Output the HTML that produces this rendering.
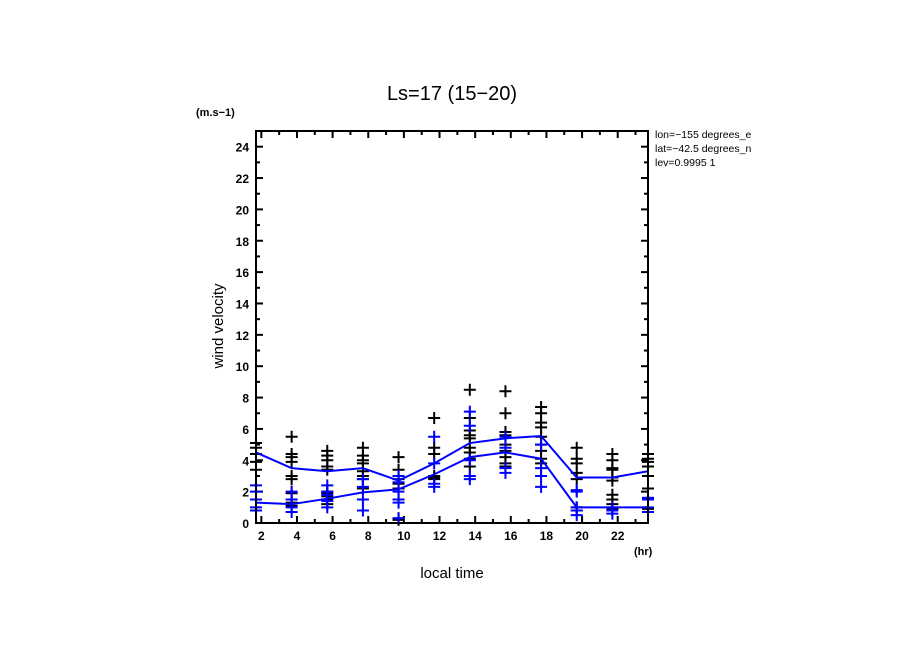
<!DOCTYPE html>
<html><head><meta charset="utf-8"><style>
body{margin:0;background:#fff}
svg text{font-family:"Liberation Sans",sans-serif}
</style></head><body>
<svg id="chart" width="904" height="654" viewBox="0 0 904 654">
<rect width="904" height="654" fill="#fff"/>
<text x="452" y="100" font-size="20" text-anchor="middle">Ls=17 (15−20)</text>
<text x="196" y="116" font-size="11" font-weight="bold">(m.s−1)</text>
<text x="655" y="138" font-size="10.5">lon=−155 degrees_e</text>
<text x="655" y="152" font-size="10.5">lat=−42.5 degrees_n</text>
<text x="655" y="166" font-size="10.5">lev=0.9995 1</text>
<text x="223" y="326" font-size="15" text-anchor="middle" transform="rotate(-90 223 326)">wind velocity</text>
<text x="452" y="578" font-size="15" text-anchor="middle">local time</text>
<text x="634" y="555" font-size="11" font-weight="bold">(hr)</text>
<g id="axes"></g>
<g id="series"></g>
<rect x="256" y="131" width="392" height="392" fill="none" stroke="#000" stroke-width="2"/>
</svg>
<script>
const hours=[1.7,3.7,5.7,7.7,9.7,11.7,13.7,15.7,17.7,19.7,21.7,23.7];
const upperLine=[4.5,3.5,3.3,3.5,2.7,3.8,5.1,5.4,5.55,2.9,2.9,3.3];
const lowerLine=[1.3,1.2,1.55,1.95,2.15,3.1,4.2,4.5,4.1,1.0,1.0,1.0];
const blackPts=[[5.1,4.8,4.4,3.9,3.4],[5.5,4.4,4.2,3.9,3.0,2.8,1.9,1.3,1.1],[4.6,4.3,4.0,3.6,3.4,2.0,1.9,1.7,1.5,1.2],[4.8,4.3,4.0,3.8,3.3,3.0,2.8,2.2],[4.2,3.4,3.0,2.8,2.5,2.2,1.5,0.3,0.2],[6.7,4.8,4.4,3.0,2.9,2.8],[8.5,6.7,5.9,5.6,5.4,4.8,4.5,4.1,3.6],[8.4,7.0,5.8,5.6,5.0,4.6,4.2,3.8,3.6],[7.4,7.0,6.4,6.1,5.5,5.0,4.6,4.1,3.8],[4.8,4.1,3.8,3.2,2.8,1.0,0.8],[4.4,4.0,3.5,3.4,2.9,2.7,1.8,1.5,1.2,0.9],[4.4,4.1,3.9,3.6,3.0,2.2,1.6,0.9]];
const bluePts=[[2.4,2.0,1.5,1.0,0.8],[2.0,1.5,1.0,0.7],[2.4,2.0,1.8,1.4,1.0],[2.8,2.3,1.5,0.8],[3.0,2.6,2.0,1.5,1.3,0.3],[5.5,3.8,2.5,2.3],[7.1,6.2,4.0,3.0,2.8],[5.5,4.8,3.5,3.2],[5.0,3.5,3.0,2.3],[2.1,2.0,1.0,0.8,0.5],[1.0,0.8,0.6],[1.6,1.5,1.0,0.7]];
const xTicks=[2,4,6,8,10,12,14,16,18,20,22];
const yTicks=[0,2,4,6,8,10,12,14,16,18,20,22,24];
const X0=256,X1=648,Y0=523,Y1=131,xmin=1.7,xmax=23.7,ymin=0,ymax=25;
const sx=v=>X0+(v-xmin)/(xmax-xmin)*(X1-X0);
const sy=v=>Y0-(v-ymin)/(ymax-ymin)*(Y0-Y1);
const NS='http://www.w3.org/2000/svg';
function mk(tag,attrs,parent){const e=document.createElementNS(NS,tag);for(const k in attrs)e.setAttribute(k,attrs[k]);parent.appendChild(e);return e;}
const axes=document.getElementById('axes'),ser=document.getElementById('series');
for(let h=2;h<=23;h++){const x=sx(h),L=h%2?4:7;
 const t1=mk('line',{x1:x,x2:x,y1:Y0,y2:Y0-L,stroke:'#000','stroke-width':2},axes);
 
 
 const t2=mk('line',{x1:x,x2:x,y1:Y1,y2:Y1+L,stroke:'#000','stroke-width':2},axes);
 
 }
xTicks.forEach(h=>{const t=mk('text',{x:sx(h),y:540,'font-size':12,'font-weight':'bold','text-anchor':'middle'},axes);t.textContent=h;
 
 });
for(let v=0;v<=25;v++){const y=sy(v),L=v%2?4:7;
 const t1=mk('line',{x1:X0,x2:X0+L,y1:y,y2:y,stroke:'#000','stroke-width':2},axes);
 
 
 const t2=mk('line',{x1:X1,x2:X1-L,y1:y,y2:y,stroke:'#000','stroke-width':2},axes);
 
 }
yTicks.forEach(v=>{const t=mk('text',{x:249,y:sy(v)+5,'font-size':12,'font-weight':'bold','text-anchor':'end'},axes);t.textContent=v;
 
 });
function plus(x,y,c,name){const g=mk('path',{d:`M${x-6},${y}H${x+6}M${x},${y-6}V${y+6}`,stroke:c,'stroke-width':2,fill:'none'},ser);
 
 }
blackPts.forEach((arr,i)=>arr.forEach(v=>plus(sx(hours[i]),sy(v),'#000','black-point')));
bluePts.forEach((arr,i)=>arr.forEach(v=>plus(sx(hours[i]),sy(v),'#0000ff','blue-point')));
[[upperLine,'upper-mean-line'],[lowerLine,'lower-mean-line']].forEach(([arr,n])=>{
 const p=mk('polyline',{points:arr.map((v,i)=>sx(hours[i])+','+sy(v)).join(' '),stroke:'#0000ff','stroke-width':2,fill:'none'},ser);
 
 });
</script>
</body></html>
